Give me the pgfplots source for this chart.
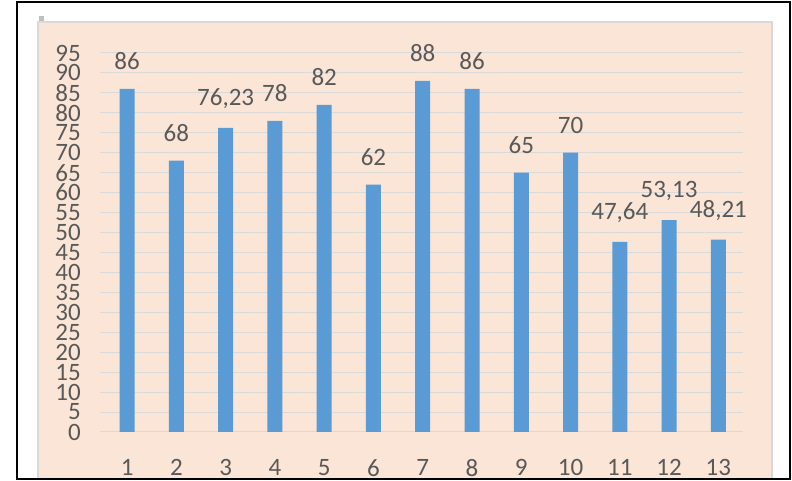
\documentclass[border=0pt]{standalone}
\usepackage{pgfplots}
\pgfplotsset{compat=1.18}
\usepackage{fontspec}
\setmainfont{Carlito}
\definecolor{peach}{HTML}{FBE5D6}
\definecolor{bordergray}{HTML}{D9D9D9}
\definecolor{gridgray}{HTML}{D9D9D9}
\definecolor{barblue}{HTML}{5B9BD5}
\definecolor{txt}{HTML}{595959}
\begin{document}
\begin{tikzpicture}[x=1pt,y=1pt]
% bounding area
\fill[white] (-100,-49) rectangle (692,432);
% peach chart area
\begin{scope}
\clip (-83,-47) rectangle (690,430);
\fill[peach, draw=bordergray, line width=2pt] (-62,410) rectangle (672,-60);
\end{scope}
\fill[gray!50] (-61,416) rectangle (-56,411);
\begin{axis}[
  scale only axis,
  width=643pt, height=379pt,
  xmin=0.45, xmax=13.5,
  ymin=0, ymax=95,
  ytick={0,5,...,95},
  xtick={1,...,13},
  axis line style={draw=none},
  major tick length=0pt,
  ymajorgrids,
  grid style={gridgray, line width=1pt},
  clip=false,
  /pgf/number format/assume math mode=true,
  tick label style={font=\fontsize{25}{25}\selectfont, text=txt, inner sep=0pt},
  yticklabel style={anchor=east, xshift=-19pt},
  xticklabel style={anchor=north, yshift=-27pt},
  ybar, bar width=15pt,
  nodes near coords,
  point meta=explicit symbolic,
  every node near coord/.append style={font=\fontsize{25}{25}\selectfont, text=txt, inner sep=0pt, yshift=19pt},
]
\addplot[fill=barblue, draw=none] coordinates {
(1,86) [86]
(2,68) [68]
(3,76.23) [{76,23}]
(4,78) [78]
(5,82) [82]
(6,62) [62]
(7,88) [88]
(8,86) [86]
(9,65) [65]
(10,70) [70]
(11,47.64) [{47,64}]
(12,53.13) [{53,13}]
(13,48.21) [{48,21}]
};
\end{axis}
\draw[black, line width=2pt] (-83,430) rectangle (690,-47);
\end{tikzpicture}
\end{document}
